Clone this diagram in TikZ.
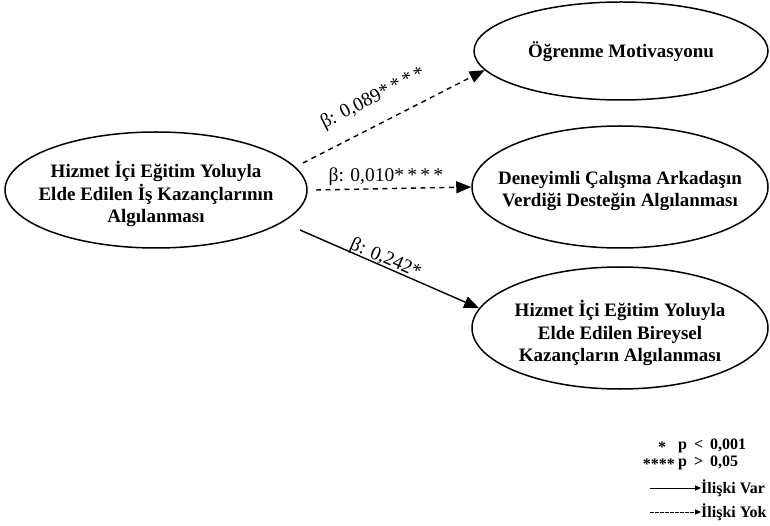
\documentclass[tikz,border=0pt]{standalone}
\usepackage{fontspec}
\setmainfont{Liberation Serif}
\usetikzlibrary{shapes.geometric,arrows.meta}
\begin{document}
\begin{tikzpicture}[x=1pt,y=-1pt,
  construct/.style={draw,line width=1.5pt,ellipse,inner sep=0pt},
  label text/.style={align=center,font=\bfseries\fontsize{19}{22.5}\selectfont,inner sep=0pt},
  link/.style={line width=1.4pt,-{Triangle[length=15pt,width=12pt]}},
  nolink/.style={link,dash pattern=on 5pt off 4.5pt},
  coef/.style={font=\fontsize{19.5}{21}\selectfont,inner sep=1pt},
  legend/.style={font=\bfseries\fontsize{16}{18}\selectfont,inner sep=0pt},
  legend arrow/.style={line width=1pt,-{Triangle[length=6pt,width=5pt]}}]
\useasboundingbox (0,0) rectangle (770,526);

% latent constructs: outlines
\node[construct,minimum width=302pt,minimum height=116pt] (src) at (156,190) {};
\node[construct,minimum width=294pt,minimum height=98pt] (mot) at (621,51) {};
\node[construct,minimum width=296pt,minimum height=122pt] (sup) at (620,187) {};
\node[construct,minimum width=296pt,minimum height=122pt] (ind) at (620,328) {};
% latent constructs: names
\node[label text] (srct) at ([yshift=-4pt]src.center) {Hizmet İçi Eğitim Yoluyla\\Elde Edilen İş Kazançlarının\\Algılanması};
\node[label text] (mott) at ([yshift=-1pt]mot.center) {Öğrenme Motivasyonu};
\node[label text] (supt) at ([yshift=-4pt]sup.center) {Deneyimli Çalışma Arkadaşın\\Verdiği Desteğin Algılanması};
\node[label text] (indt) at ([yshift=-5pt]ind.center) {Hizmet İçi Eğitim Yoluyla\\Elde Edilen Bireysel\\Kazançların Algılanması};

% paths with standardized coefficients
\coordinate (a1) at (303,163);
\coordinate (a2) at (316,190);
\coordinate (a3) at (300,230);
\draw[nolink] (a1) -- (mot.188) node[coef,pos=0.45,sloped,above=15pt] {β: 0,089*\,*\,*\,*};
\draw[nolink] (a2) -- (sup.west) node[coef,pos=0.45,above=1pt] {β: 0,010*\,*\,*\,*};
\draw[link] (a3) -- (ind.172) node[coef,pos=0.46,sloped,above=-3pt] {β: 0,242*};

% legend
\node[legend,anchor=center] (l1s) at (662,447) {*};
\node[legend,anchor=west] (l1) at (678,446) {p\hspace{7pt}<\hspace{7pt}0,001};
\node[legend,anchor=east] (l2s) at (675,464) {****};
\node[legend,anchor=west] (l2) at (678,463) {p\hspace{7pt}>\hspace{7pt}0,05};
\node[legend,anchor=west] (l3) at (701,488) {İlişki Var};
\node[legend,anchor=west] (l4) at (701,512) {İlişki Yok};
\coordinate (s3) at (650,488);
\coordinate (s4) at (650,512);
\draw[legend arrow] (s3) -- (l3.west);
\draw[legend arrow,dash pattern=on 3.5pt off 1.5pt] (s4) -- (l4.west);
\end{tikzpicture}
\end{document}
